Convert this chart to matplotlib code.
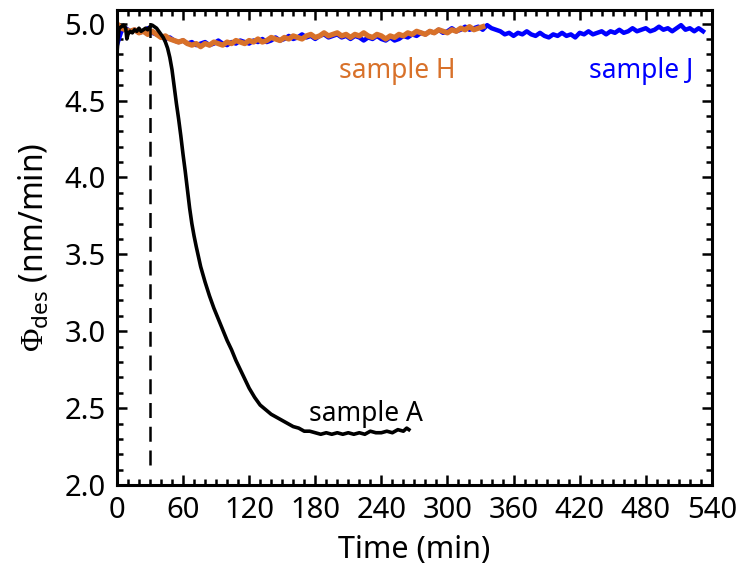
import matplotlib
matplotlib.use("Agg")
import matplotlib.pyplot as plt
import numpy as np

plt.rcParams['font.family'] = ['Noto Sans', 'DejaVu Sans']
plt.rcParams['mathtext.fontset'] = 'custom'
plt.rcParams['mathtext.rm'] = 'Liberation Serif'
plt.rcParams['mathtext.sf'] = 'Noto Sans'

# sample J (blue), every 4 min
t_J = np.arange(0, 536, 4)
phi_J = [4.86, 4.95, 4.97, 4.95, 4.96, 4.94, 4.95, 4.97, 4.94, 4.93,
         4.92, 4.90, 4.91, 4.89, 4.88, 4.89, 4.87, 4.88, 4.86, 4.87,
         4.88, 4.86, 4.87, 4.89, 4.87, 4.86, 4.88, 4.87, 4.89, 4.88,
         4.87, 4.89, 4.88, 4.90, 4.88, 4.89, 4.91, 4.89, 4.90, 4.92,
         4.90, 4.91, 4.93, 4.91, 4.92, 4.90, 4.92, 4.93, 4.91, 4.92,
         4.93, 4.91, 4.92, 4.90, 4.92, 4.91, 4.89, 4.91, 4.90, 4.92,
         4.90, 4.89, 4.91, 4.89, 4.90, 4.92, 4.91, 4.93, 4.92, 4.94,
         4.93, 4.95, 4.94, 4.96, 4.94, 4.95, 4.97, 4.95, 4.96, 4.98,
         4.96, 4.97, 4.98, 4.96, 4.99, 4.97, 4.96, 4.95, 4.93, 4.94,
         4.92, 4.94, 4.93, 4.95, 4.93, 4.92, 4.94, 4.92, 4.91, 4.93,
         4.92, 4.94, 4.92, 4.93, 4.91, 4.94, 4.93, 4.95, 4.93, 4.94,
         4.95, 4.93, 4.95, 4.94, 4.96, 4.94, 4.95, 4.97, 4.95, 4.96,
         4.97, 4.95, 4.96, 4.98, 4.96, 4.97, 4.95, 4.97, 4.99, 4.96,
         4.97, 4.95, 4.97, 4.95]

# sample H (orange), every 4 min
t_H = np.arange(0, 336, 4)
phi_H = [5.00, 4.97, 4.96, 4.95, 4.96, 4.94, 4.95, 4.93, 4.95, 4.93,
         4.91, 4.92, 4.90, 4.89, 4.88, 4.89, 4.87, 4.86, 4.87, 4.85,
         4.87, 4.86, 4.88, 4.87, 4.86, 4.88, 4.87, 4.89, 4.88, 4.87,
         4.89, 4.88, 4.90, 4.88, 4.89, 4.91, 4.90, 4.89, 4.91, 4.90,
         4.92, 4.91, 4.90, 4.92, 4.93, 4.91, 4.92, 4.94, 4.92, 4.93,
         4.94, 4.92, 4.93, 4.91, 4.93, 4.92, 4.94, 4.92, 4.91, 4.93,
         4.92, 4.90, 4.92, 4.91, 4.93, 4.92, 4.94, 4.93, 4.95, 4.94,
         4.93, 4.95, 4.94, 4.96, 4.95, 4.94, 4.96, 4.95, 4.97, 4.96,
         4.98, 4.96, 4.97, 4.98]

# sample A (black)
t_A = [0, 1, 2, 4, 6, 8, 9, 10, 12, 14, 16, 18, 20, 22, 24, 26, 28, 30,
       32, 34, 36, 38, 40, 42, 44, 46, 48, 50, 52, 54, 56, 58, 60, 62, 64,
       66, 68, 70, 72, 76, 80, 84, 88, 92, 96, 100, 104, 108, 112, 116,
       120, 125, 130, 135, 140, 145, 150, 155, 160, 165, 170, 175, 180,
       185, 190, 195, 200, 205, 210, 215, 220, 225, 230, 235, 240, 245,
       250, 255, 260, 263, 265]
phi_A = [4.80, 4.90, 4.97, 4.98, 4.99, 4.97, 4.90, 4.93, 4.95, 4.94, 4.96,
         4.95, 4.97, 4.95, 4.96, 4.97, 4.96, 4.98, 4.99, 4.98, 4.97, 4.95,
         4.93, 4.91, 4.88, 4.84, 4.78, 4.70, 4.59, 4.48, 4.38, 4.27, 4.15,
         4.04, 3.92, 3.80, 3.70, 3.62, 3.55, 3.42, 3.32, 3.23, 3.15, 3.08,
         3.01, 2.94, 2.88, 2.81, 2.75, 2.69, 2.63, 2.57, 2.52, 2.49, 2.46,
         2.44, 2.42, 2.40, 2.38, 2.37, 2.35, 2.35, 2.34, 2.33, 2.34, 2.33,
         2.34, 2.33, 2.34, 2.33, 2.34, 2.33, 2.35, 2.34, 2.34, 2.35, 2.34,
         2.36, 2.35, 2.37, 2.36]

t_switch = 30
orange = '#d8712a'

fig = plt.figure(figsize=(7.4, 5.74), dpi=100)
ax = fig.add_axes([0.158, 0.155, 0.804, 0.828])

ax.plot(t_J, phi_J, color='blue', lw=3.2)
ax.plot(t_H, phi_H, color=orange, lw=3.8)
ax.plot(t_A, phi_A, color='black', lw=2.6)
ax.plot([t_switch, t_switch], [2.13, 5.04], color='black', lw=1.8, dashes=(6, 3.5))

ax.text(254, 4.69, 'sample H', color=orange, fontsize=19, ha='center', va='center')
ax.text(476, 4.69, 'sample J', color='blue', fontsize=19, ha='center', va='center')
ax.text(226, 2.46, 'sample A', color='black', fontsize=19, ha='center', va='center')

ax.set_xlim(0, 540)
ax.set_ylim(2.0, 5.09)
ax.set_xticks(np.arange(0, 541, 60))
ax.set_xticks(np.arange(0, 541, 10), minor=True)
ax.set_yticks([2.0, 2.5, 3.0, 3.5, 4.0, 4.5, 5.0])
ax.set_yticks(np.arange(2.0, 5.05, 0.1), minor=True)
ax.set_yticklabels(['2.0', '2.5', '3.0', '3.5', '4.0', '4.5', '5.0'])
ax.tick_params(which='both', direction='in', top=True, right=True, width=1.8)
ax.tick_params(which='major', length=7.5, labelsize=21, pad=8)
ax.tick_params(which='minor', length=4)
for s in ax.spines.values():
    s.set_linewidth(2.2)

ax.set_xlabel('Time (min)', fontsize=22, labelpad=7)
ax.set_ylabel(r'$\Phi_{\mathsf{des}}$ (nm/min)', fontsize=23, labelpad=9)

fig.savefig('out.png', dpi=100)
